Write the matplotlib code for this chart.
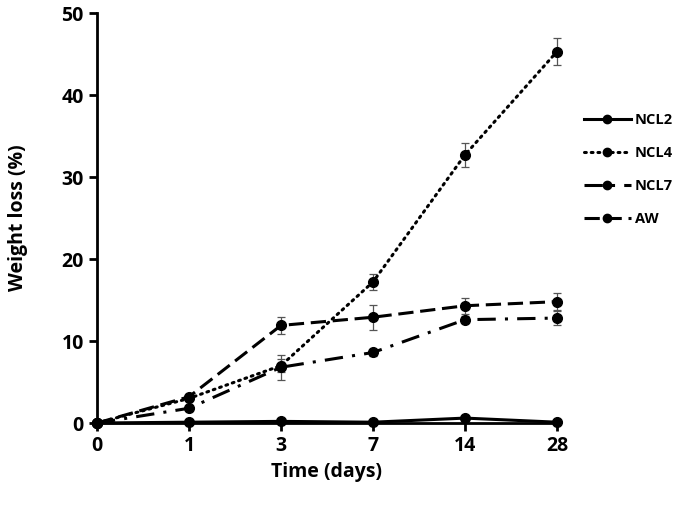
import matplotlib
matplotlib.use("Agg")
import matplotlib.pyplot as plt
from matplotlib.lines import Line2D

days = ["0", "1", "3", "7", "14", "28"]
ncl2 = [0, 0.1, 0.2, 0.1, 0.6, 0.1]
ncl4 = [0, 3.0, 7.0, 17.2, 32.7, 45.3]
ncl7 = [0, 1.8, 6.8, 8.6, 12.6, 12.8]
aw = [0, 3.2, 11.9, 12.9, 14.3, 14.8]
ncl2_err = [0, 0.1, 0.1, 0.1, 0.2, 0.2]
ncl4_err = [0, 0.3, 0.8, 1.0, 1.5, 1.7]
ncl7_err = [0, 0.3, 1.5, 0.4, 0.4, 0.8]
aw_err = [0, 0.3, 1.0, 1.5, 1.0, 1.0]
series_names = ["NCL2", "NCL4", "NCL7", "AW"]

plt.rcParams['font.family'] = ['Open Sans', 'DejaVu Sans']
fig = plt.figure(figsize=(6.81, 5.12), dpi=100)
ax = fig.add_axes([0.1424, 0.1738, 0.6755, 0.8008])
x = list(range(len(days)))

linestyles = ['-', (0, (0.6, 1.6)), (0, (6, 3, 1, 3)), (0, (5, 2.2))]
handles = []
for name, vals, err, ls in zip(series_names, [ncl2, ncl4, ncl7, aw],
                               [ncl2_err, ncl4_err, ncl7_err, aw_err], linestyles):
    cap = 'round' if name == "NCL4" else 'butt'
    ax.errorbar(x, vals, yerr=err, color='black', linestyle=ls, linewidth=2.2,
                marker='o', markersize=7, ecolor='#555555', elinewidth=0.9,
                capsize=3, capthick=0.9, dash_capstyle=cap, clip_on=False)
    handles.append(Line2D([], [], color='black', linestyle=ls, linewidth=2.2,
                          marker='o', markersize=6, dash_capstyle=cap, label=name))

ax.set_xlim(0, 5)
ax.set_ylim(0, 50)
ax.set_xticks(x)
ax.set_xticklabels(days)
ax.set_yticks([0, 10, 20, 30, 40, 50])
ax.spines['top'].set_visible(False)
ax.spines['right'].set_visible(False)
for s in ['left', 'bottom']:
    ax.spines[s].set_linewidth(2)
ax.tick_params(axis='both', direction='out', width=2, length=6, labelsize=14)
for lab in ax.get_xticklabels() + ax.get_yticklabels():
    lab.set_fontweight('bold')
ax.set_xlabel("Time (days)", fontsize=14, fontweight='bold')
ax.set_ylabel("Weight loss (%)", fontsize=14, fontweight='bold', labelpad=24)

ax.legend(handles=handles, loc='center left', bbox_to_anchor=(1.03, 0.618),
          frameon=False, prop={'size': 10.5, 'weight': 'bold'}, handlelength=3.2,
          handletextpad=0.3, labelspacing=1.3)
fig.savefig("out.png", dpi=100)
